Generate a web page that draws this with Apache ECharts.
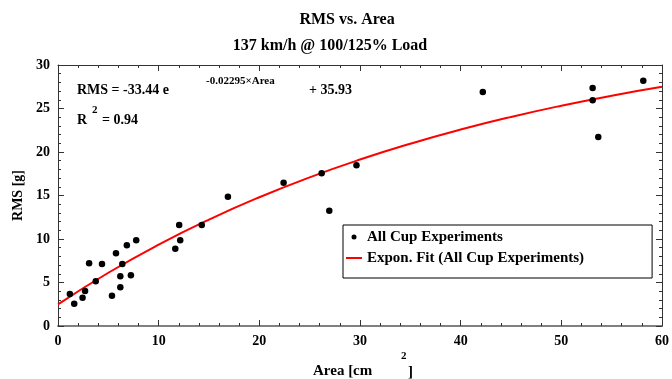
<!DOCTYPE html>
<html>
<head>
<meta charset="utf-8">
<script src="https://cdn.jsdelivr.net/npm/echarts@6/dist/echarts.min.js"></script>
<style>html,body{margin:0;padding:0;background:#fff}#c{width:672px;height:379px}</style>
</head>
<body>
<div id="c"></div>
<script>
// Measured points: Area [cm^2] and RMS [g]
var areaValues = [1.18, 1.61, 2.44, 2.69, 3.09, 3.75, 4.37, 5.36, 5.76, 6.19, 6.19, 6.39, 6.84, 7.24, 7.77, 11.65, 12.04, 12.14, 14.28, 16.88, 22.41, 26.19, 26.95, 29.65, 42.2, 53.11, 53.11, 53.67, 58.14];
var rmsValues  = [3.68, 2.56, 3.25, 4.02, 7.21, 5.14, 7.13, 3.48, 8.36, 5.71, 4.45, 7.13, 9.28, 5.83, 9.85, 8.89, 11.61, 9.85, 11.61, 14.86, 16.47, 17.55, 13.25, 18.47, 26.9, 27.36, 25.94, 21.72, 28.2];
// Fit curve values
var fitArea = [0, 5, 10, 15, 20, 25, 30, 35, 40, 45, 50, 55, 60];
var fitRms  = [2.49, 6.12, 9.35, 12.23, 14.80, 17.09, 19.13, 20.95, 22.58, 24.03, 25.32, 26.47, 27.49];
var xTicks = [0, 10, 20, 30, 40, 50, 60];
var yTicks = [0, 5, 10, 15, 20, 25, 30];

var serif = '"Liberation Serif","Times New Roman",serif';
var scatterData = areaValues.map(function (a, i) { return [a, rmsValues[i]]; });
var fitData = fitArea.map(function (a, i) { return [a, fitRms[i]]; });

function mkAxis(pos, isX, showLabel) {
  var ticks = isX ? xTicks : yTicks;
  return {
    type: 'value', position: pos,
    min: ticks[0], max: ticks[ticks.length - 1], interval: ticks[1] - ticks[0],
    axisLine: { show: true, onZero: false, lineStyle: { color: (pos === 'bottom') ? '#808080' : '#333', width: (pos === 'bottom') ? 2 : 1 } },
    axisTick: { show: true, inside: true, length: 6, lineStyle: { color: '#333', width: 1 } },
    minorTick: { show: true, splitNumber: 5, length: 3, lineStyle: { color: '#333', width: 1 } },
    splitLine: { show: false },
    minorSplitLine: { show: false },
    axisLabel: showLabel ? {
      show: true, color: '#000', fontFamily: serif, fontWeight: 'bold', fontSize: 14,
      margin: 8, padding: isX ? 0 : [0, 0, 8, 0]
    } : { show: false }
  };
}

var yAxisMain = mkAxis('left', false, true);
yAxisMain.name = 'RMS [g]';
yAxisMain.nameLocation = 'middle';
yAxisMain.nameGap = 33;
yAxisMain.nameTextStyle = { color: '#000', fontFamily: serif, fontWeight: 'bold', fontSize: 14 };

var chart = echarts.init(document.getElementById('c'), null, { renderer: 'canvas' });
chart.setOption({
  backgroundColor: '#fff',
  animation: false,
  grid: { left: 58, right: 6, top: 65, bottom: 53 },
  xAxis: [mkAxis('bottom', true, true), mkAxis('top', true, false)],
  yAxis: [yAxisMain, mkAxis('right', false, false)],
  legend: {
    orient: 'vertical', left: 343, top: 225,
    backgroundColor: '#fff', borderColor: '#000', borderWidth: 1,
    padding: [4, 68, 12, 3], itemGap: 5, itemWidth: 16, itemHeight: 5, itemTextGap: 2,
    textStyle: { color: '#000', fontFamily: serif, fontWeight: 'bold', fontSize: 15, lineHeight: 16 },
    data: [
      { name: 'All Cup Experiments', icon: 'circle' },
      { name: 'Expon. Fit (All Cup Experiments)', icon: 'path://M0,0H16V2H0Z', itemStyle: { color: '#ff0000' } }
    ]
  },
  graphic: [
    { type: 'text', x: 347, y: 20, style: { text: 'RMS vs. Area', font: 'bold 16px ' + serif, fill: '#000', align: 'center', verticalAlign: 'middle' } },
    { type: 'text', x: 330, y: 46, style: { text: '137 km/h @ 100/125% Load', font: 'bold 16px ' + serif, fill: '#000', align: 'center', verticalAlign: 'middle' } },
    { type: 'text', x: 77, y: 90, style: { text: 'RMS = -33.44 e', font: 'bold 14px ' + serif, fill: '#000', align: 'left', verticalAlign: 'middle' } },
    { type: 'text', x: 206, y: 81, style: { text: '-0.02295\u00d7Area', font: 'bold 11px ' + serif, fill: '#000', align: 'left', verticalAlign: 'middle' } },
    { type: 'text', x: 309, y: 90, style: { text: '+ 35.93', font: 'bold 14px ' + serif, fill: '#000', align: 'left', verticalAlign: 'middle' } },
    { type: 'text', x: 77, y: 120, style: { text: 'R', font: 'bold 14px ' + serif, fill: '#000', align: 'left', verticalAlign: 'middle' } },
    { type: 'text', x: 92, y: 110, style: { text: '2', font: 'bold 11px ' + serif, fill: '#000', align: 'left', verticalAlign: 'middle' } },
    { type: 'text', x: 102, y: 120, style: { text: '= 0.94', font: 'bold 14px ' + serif, fill: '#000', align: 'left', verticalAlign: 'middle' } },
    { type: 'text', x: 313, y: 371, style: { text: 'Area [cm', font: 'bold 15px ' + serif, fill: '#000', align: 'left', verticalAlign: 'middle' } },
    { type: 'text', x: 401, y: 356, style: { text: '2', font: 'bold 11px ' + serif, fill: '#000', align: 'left', verticalAlign: 'middle' } },
    { type: 'text', x: 408, y: 372, style: { text: ']', font: 'bold 15px ' + serif, fill: '#000', align: 'left', verticalAlign: 'middle' } }
  ],
  series: [
    {
      name: 'Expon. Fit (All Cup Experiments)', type: 'line', data: fitData, smooth: true,
      symbol: 'none', showSymbol: false, color: '#ff0000',
      lineStyle: { color: '#ff0000', width: 2 }, z: 2
    },
    {
      name: 'All Cup Experiments', type: 'scatter', data: scatterData, symbol: 'circle', symbolSize: 6.5,
      itemStyle: { color: '#000', opacity: 1 }, z: 3
    }
  ]
});
</script>
</body>
</html>
